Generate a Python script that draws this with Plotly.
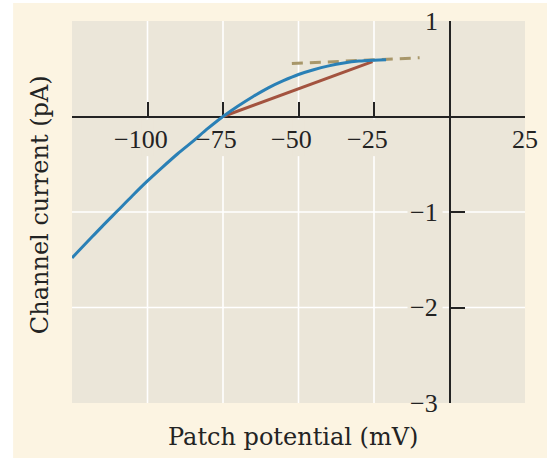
import plotly.graph_objects as go

# Single-channel current vs. patch potential
V_FULL = [-125, -120, -115, -110, -105, -100, -95, -90, -85, -80, -75,
          -70, -65, -60, -55, -50, -45, -40, -35, -30, -25, -21]
I_FULL = [-1.48, -1.315, -1.15, -0.99, -0.83, -0.675, -0.53, -0.39, -0.26, -0.125, 0.0,
          0.11, 0.21, 0.30, 0.375, 0.44, 0.49, 0.53, 0.56, 0.58, 0.59, 0.595]

# Ohmic chord from the reversal potential
V_CHORD = [-75, -25.5]
I_CHORD = [0.0, 0.575]

# Saturating asymptote
V_ASYM = [-52.2, -9.9]
I_ASYM = [0.555, 0.615]

X_TICKS = [-125, -100, -75, -50, -25, 25]
X_LABELS = ["", "−100", "−75", "−50", "−25", "25"]
Y_TICKS = [1, -1, -2, -3]
Y_LABELS = ["1", "−1", "−2", "−3"]
X_GRID = [-100, -75, -50, -25]
Y_GRID = [-1, -2]

X_RANGE = [-125, 25]
Y_RANGE = [-3, 1]

PAPER = "#fcf4e2"
PANEL = "#ebe6d9"
INK = "#232323"
TICK_FONT = dict(family="Liberation Serif", size=26, color=INK)
TITLE_FONT = dict(family="DejaVu Serif", size=24, color=INK)

fig = go.Figure()
fig.add_trace(go.Scatter(x=V_ASYM, y=I_ASYM, mode="lines",
                         line=dict(color="#a8976a", width=3, dash="11px,7px")))
fig.add_trace(go.Scatter(x=V_CHORD, y=I_CHORD, mode="lines",
                         line=dict(color="#a3533f", width=3)))
fig.add_trace(go.Scatter(x=V_FULL, y=I_FULL, mode="lines",
                         line=dict(color="#2a80b6", width=3, shape="spline", smoothing=1.0)))

shapes = []
# white page margin outside the cream panel
shapes.append(dict(type="rect", xref="paper", yref="paper", x0=-0.2, x1=-0.130,
                   y0=-0.3, y1=1.2, fillcolor="white", line=dict(width=0), layer="below"))
shapes.append(dict(type="rect", xref="paper", yref="paper", x0=-0.2, x1=1.2,
                   y0=1.047, y1=1.2, fillcolor="white", line=dict(width=0), layer="below"))
# grid
for gx in X_GRID:
    shapes.append(dict(type="line", xref="x", yref="y", x0=gx, x1=gx, y0=Y_RANGE[0], y1=Y_RANGE[1],
                       line=dict(color="white", width=1.6), layer="below"))
for gy in Y_GRID:
    shapes.append(dict(type="line", xref="x", yref="y", x0=X_RANGE[0], x1=X_RANGE[1], y0=gy, y1=gy,
                       line=dict(color="white", width=1.6), layer="below"))
# gaps in the grid behind tick labels
for gx in X_GRID:
    shapes.append(dict(type="rect", xref="x", yref="y", x0=gx - 2, x1=gx + 2, y0=-0.415, y1=-0.03,
                       fillcolor=PANEL, line=dict(width=0), layer="below"))
for gy in Y_GRID:
    shapes.append(dict(type="rect", xref="x", yref="y", x0=-13.9, x1=-2.3, y0=gy - 0.05, y1=gy + 0.05,
                       fillcolor=PANEL, line=dict(width=0), layer="below"))

annotations = []
for v, t in zip(X_TICKS, X_LABELS):
    if not t:
        continue
    annotations.append(dict(x=v, y=0, xref="x", yref="y", text=t, showarrow=False,
                            xanchor="center", yanchor="middle", yshift=-23,
                            xshift=-7 if t.startswith("−") else 0, font=TICK_FONT))
for v, t in zip(Y_TICKS, Y_LABELS):
    annotations.append(dict(x=0, y=v, xref="x", yref="y", text=t, showarrow=False,
                            xanchor="right", yanchor="middle", xshift=-10, yshift=0,
                            font=TICK_FONT))
annotations.append(dict(x=0.487, y=-0.089, xref="paper", yref="paper", text="Patch potential (mV)",
                        showarrow=False, xanchor="center", yanchor="middle", font=TITLE_FONT))
annotations.append(dict(x=-0.0706, y=0.518, xref="paper", yref="paper", text="Channel current (pA)",
                        showarrow=False, xanchor="center", yanchor="middle", textangle=-90,
                        font=TITLE_FONT))

fig.update_layout(
    width=547, height=458, autosize=False,
    margin=dict(l=72, r=22, t=21, b=55),
    paper_bgcolor=PAPER, plot_bgcolor=PANEL,
    showlegend=False,
    shapes=shapes, annotations=annotations,
    xaxis=dict(range=X_RANGE, anchor="free", position=(0 - Y_RANGE[0]) / (Y_RANGE[1] - Y_RANGE[0]),
               showgrid=False, zeroline=False, showline=True, linecolor=INK, linewidth=2,
               ticks="inside", tickvals=X_TICKS, ticklen=14, tickwidth=2, tickcolor=INK,
               showticklabels=False, layer="below traces", fixedrange=True),
    yaxis=dict(range=Y_RANGE, anchor="free", position=(0 - X_RANGE[0]) / (X_RANGE[1] - X_RANGE[0]),
               showgrid=False, zeroline=False, showline=True, linecolor=INK, linewidth=2,
               ticks="inside", tickvals=Y_TICKS, ticklen=14, tickwidth=2, tickcolor=INK,
               showticklabels=False, layer="below traces", fixedrange=True),
)

fig.write_html("out.html", config={"displayModeBar": False})
